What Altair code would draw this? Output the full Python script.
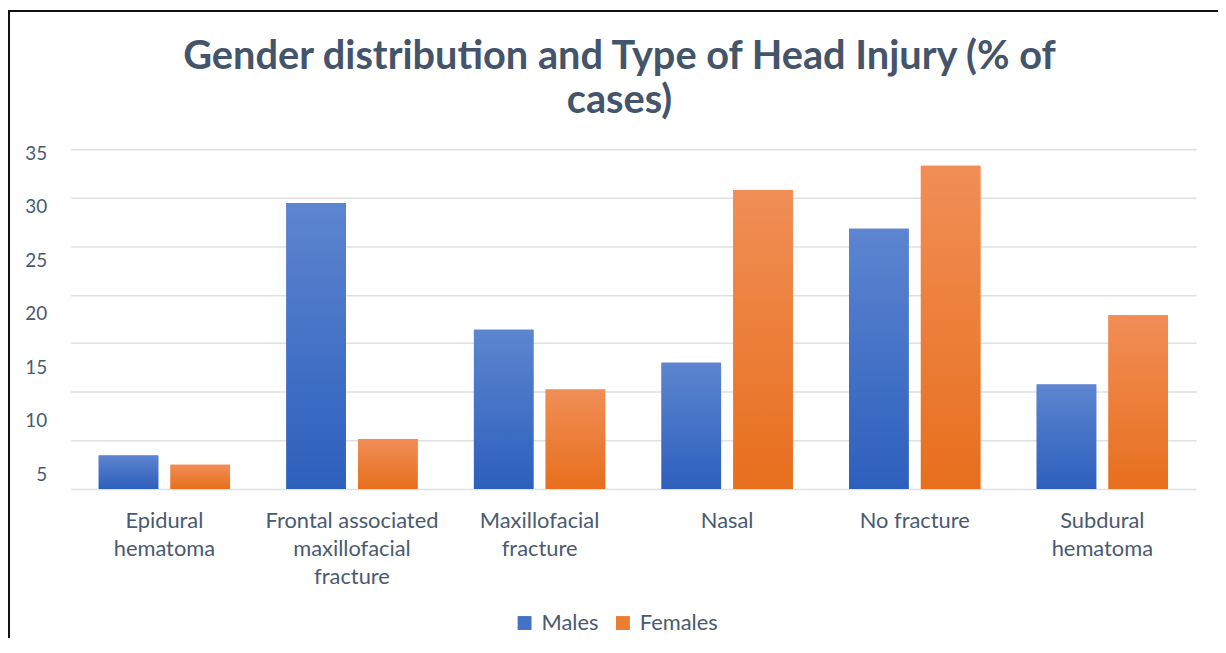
import altair as alt
import pandas as pd

categories = [
    "Epidural\nhematoma",
    "Frontal associated\nmaxillofacial\nfracture",
    "Maxillofacial\nfracture",
    "Nasal",
    "No fracture",
    "Subdural\nhematoma",
]
males = [3.45, 29.45, 16.4, 13.0, 26.8, 10.75]
females = [2.5, 5.15, 10.25, 30.8, 33.3, 17.9]
series = ["Males", "Females"]
colors = ["#4472C4", "#ED7D31"]
y_ticks = [0, 5, 10, 15, 20, 25, 30, 35]
title_lines = ["Gender distribution and Type of Head Injury (% of", "cases)"]

rows = []
for c, m, f in zip(categories, males, females):
    rows.append({"cat": c, "gender": "Males", "value": m})
    rows.append({"cat": c, "gender": "Females", "value": f})
df = pd.DataFrame(rows)

TEXT = "#4a5a70"
FONT = "Lato"

blue_grad = alt.Gradient(
    gradient="linear", x1=0, x2=0, y1=0, y2=1,
    stops=[alt.GradientStop(color="#5d85d0", offset=0),
           alt.GradientStop(color="#2d5fbd", offset=1)],
)
orange_grad = alt.Gradient(
    gradient="linear", x1=0, x2=0, y1=0, y2=1,
    stops=[alt.GradientStop(color="#f18e56", offset=0),
           alt.GradientStop(color="#e76f1d", offset=1)],
)

x_enc = alt.X(
    "cat:N", sort=categories,
    scale=alt.Scale(paddingInner=0.3, paddingOuter=0.15),
    axis=alt.Axis(
        title=None, labelAngle=0, domain=False, ticks=False,
        labelExpr="split(datum.label, '\\n')",
        labelFont=FONT, labelFontSize=22, labelColor=TEXT,
        labelLineHeight=28, labelPadding=22,
    ),
)
xo_enc = alt.XOffset("gender:N", sort=series,
                     scale=alt.Scale(domain=series, paddingInner=0.17))
y_enc = alt.Y(
    "value:Q",
    scale=alt.Scale(domain=[0, 35], nice=False),
    axis=alt.Axis(
        title=None, values=y_ticks, domain=False, ticks=False,
        grid=True, gridColor="#dde1e6", gridWidth=1.5,
        labelExpr="datum.value == 0 ? '' : datum.label",
        labelOffset={"expr": "39 - datum.value"},
        labelPadding=24, labelFont=FONT, labelFontSize=19, labelColor=TEXT,
    ),
)

base = alt.Chart(df).encode(x=x_enc, xOffset=xo_enc, y=y_enc)

legend_layer = base.mark_bar().encode(
    color=alt.Color(
        "gender:N",
        scale=alt.Scale(domain=series, range=colors),
        legend=alt.Legend(
            orient="none", legendX=446, legendY=466, direction="horizontal",
            title=None, symbolType="square", symbolSize=196,
            symbolStrokeWidth=0, labelFont=FONT, labelFontSize=22,
            labelColor=TEXT, columnPadding=13, labelOffset=6,
        ),
    )
)
male_layer = base.transform_filter("datum.gender == 'Males'").mark_bar(fill=blue_grad)
female_layer = base.transform_filter("datum.gender == 'Females'").mark_bar(fill=orange_grad)

one = pd.DataFrame({"k": [0]})
left_border = alt.Chart(one).mark_rule(color="#111111", strokeWidth=2).encode(
    x=alt.value(-62), y=alt.value(-139), y2=alt.value(500)
)
top_border = alt.Chart(one).mark_rule(color="#111111", strokeWidth=2).encode(
    x=alt.value(-63), x2=alt.value(1160), y=alt.value(-139)
)

chart = alt.layer(
    legend_layer, male_layer, female_layer, left_border, top_border
).properties(
    width=1133,
    height=342,
    autosize=alt.AutoSizeParams(type="none"),
    padding={"left": 63, "top": 140, "right": 22, "bottom": 148},
    background="white",
    title=alt.TitleParams(
        text=title_lines, font=FONT, fontSize=40, fontWeight="bold",
        color="#44546A", anchor="middle", frame="group", dx=-14,
        lineHeight=45, offset=0, dy=112,
    ),
).configure_view(stroke="transparent")

chart.save("out.html", embed_options={"renderer": "svg", "actions": False})
